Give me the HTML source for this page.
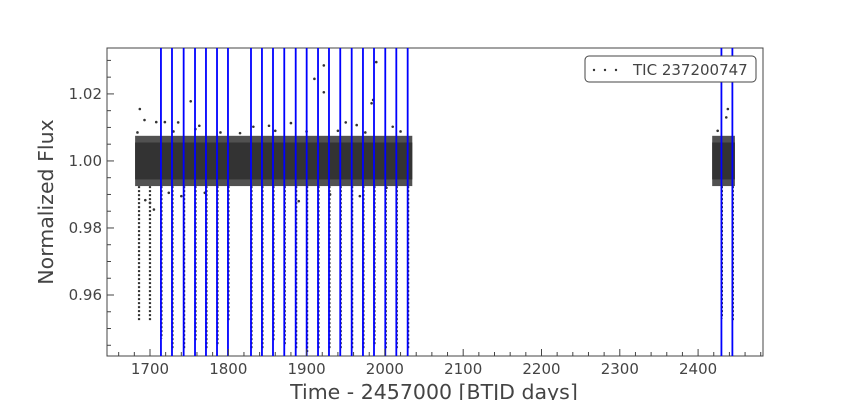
<!DOCTYPE html>
<html><head><meta charset="utf-8">
<style>
html,body{margin:0;padding:0;background:#fff;}
svg{display:block;font-family:"DejaVu Sans","Liberation Sans",sans-serif;}
</style></head>
<body>
<svg id="chart" width="848" height="400" viewBox="0 0 848 400">
  <rect x="107" y="48" width="656" height="308" fill="#fff" stroke="#444" stroke-width="1"/>
  <g id="data"></g>
  <g id="lines"></g>
  <g id="axes"></g>
  <text x="53" y="202" transform="rotate(-90 53 202)" text-anchor="middle" font-size="20.5" fill="#444">Normalized Flux</text>
  <text x="434" y="399" text-anchor="middle" font-size="20.5" fill="#444">Time - 2457000 [BTJD days]</text>
  <g>
    <rect x="585" y="56" width="171" height="26" rx="4" fill="#fff" stroke="#444" stroke-width="1"/>
    <circle cx="594" cy="70" r="1.2" fill="#333"/>
    <circle cx="605" cy="70" r="1.2" fill="#333"/>
    <circle cx="616" cy="70" r="1.2" fill="#333"/>
    <text x="633" y="75" font-size="15" fill="#444">TIC 237200747</text>
  </g>
</svg>
<script>
// ---- data ----
const xTicks = [1700,1800,1900,2000,2100,2200,2300,2400];
const yTicks = [0.96,0.98,1.00,1.02];
const yTickLabels = ["0.96","0.98","1.00","1.02"];
const segStart = [1681, 2418];
const segEnd = [2035, 2447];
const bandLow = [0.9925, 0.9925];
const bandHigh = [1.0075, 1.0075];
const coreLow = [0.9945, 0.9945];
const coreHigh = [1.0055, 1.0055];
const transitTimes = [1714.0,1728.1,1743.0,1757.5,1771.5,1785.6,1799.6,1829.0,1843.0,1857.1,1871.5,1886.1,1900.1,1914.6,1928.6,1943.0,1957.6,1972.0,1986.1,2000.5,2014.6,2029.1,2429.8,2443.8];
const transitDepth = [0.947,0.944,0.944,0.946,0.944,0.945,0.952,0.944,0.944,0.946,0.945,0.944,0.943,0.944,0.944,0.944,0.944,0.944,0.945,0.944,0.944,0.944,0.953,0.952];
const earlyDipTimes = [1686, 1700];
const earlyDipDepth = [0.952, 0.952];
const outlierT = [1687,1693,1708,1719,1736,1752,1758,1763,1832,1852,1880,1910,1922,1922,1950,1964,1983,1985,1989,2010,1694,1700,1705,1724,1740,1770,1890,1930,1968,2002,2436,2438,1684,1730,1790,1815,1860,1900,1940,1975,2020,2425];
const outlierF = [1.0155,1.0122,1.0116,1.0116,1.0115,1.0178,1.0095,1.0105,1.0102,1.0105,1.0113,1.0245,1.0285,1.0205,1.0115,1.0107,1.0172,1.0182,1.0295,1.0102,0.9883,0.9875,0.9855,0.9905,0.9895,0.9905,0.9880,0.9900,0.9895,0.9920,1.0130,1.0155,1.0085,1.0088,1.0085,1.0083,1.0090,1.0088,1.0090,1.0085,1.0088,1.0090];

// ---- scales ----
const X0=107,X1=763,Y0=48,Y1=356;
const tMin=1645.1,tMax=2482.9,fMin=0.9418,fMax=1.0337;
const sx=t=>X0+(t-tMin)/(tMax-tMin)*(X1-X0);
const sy=f=>Y1-(f-fMin)/(fMax-fMin)*(Y1-Y0);
const NS="http://www.w3.org/2000/svg";
function mk(tag,attrs,parent){const e=document.createElementNS(NS,tag);for(const k in attrs)e.setAttribute(k,attrs[k]);parent.appendChild(e);return e;}
const data=document.getElementById('data'),lines=document.getElementById('lines'),axes=document.getElementById('axes');

// bands
for(let i=0;i<segStart.length;i++){
  const r=mk('rect',{x:sx(segStart[i]),y:sy(bandHigh[i]),width:sx(segEnd[i])-sx(segStart[i]),height:sy(bandLow[i])-sy(bandHigh[i]),fill:'#333',opacity:0.85},data);
  
  
  const c=mk('rect',{x:sx(segStart[i]),y:sy(coreHigh[i]),width:sx(segEnd[i])-sx(segStart[i]),height:sy(coreLow[i])-sy(coreHigh[i]),fill:'#333'},data);
  
  
}
// dip columns
function dipColumn(t,d,name){
  const x=sx(t);
  const l=mk('line',{x1:x,x2:x,y1:sy(0.9925),y2:sy(d),stroke:'#333','stroke-width':2.2,'stroke-dasharray':'2 2'},data);
  
  
}
for(let i=0;i<earlyDipTimes.length;i++){ dipColumn(earlyDipTimes[i],earlyDipDepth[i],'early-dip'); }
for(let i=0;i<transitTimes.length;i++){ dipColumn(transitTimes[i]+0.6,transitDepth[i],'transit-dip'); }
// outliers
for(let i=0;i<outlierT.length;i++){
  const c=mk('circle',{cx:sx(outlierT[i]),cy:sy(outlierF[i]),r:1.3,fill:'#333'},data);
  
  
}
// transit lines
for(let i=0;i<transitTimes.length;i++){
  const x=sx(transitTimes[i]);
  const l=mk('line',{x1:x,x2:x,y1:Y0,y2:Y1,stroke:'#0000ff','stroke-width':1.8},lines);
  
  
}
// x ticks
for(let t=1660;t<=2480;t+=20){
  const x=sx(t),major=(t%100===0);
  const tk=mk('line',{x1:x,x2:x,y1:Y1,y2:Y1-(major?7:4),stroke:'#444','stroke-width':1},axes);
  
  
}
xTicks.forEach(t=>{
  const tx=mk('text',{x:sx(t),y:374,'text-anchor':'middle','font-size':15,fill:'#444'},axes);
  tx.textContent=t;
  
  
});
// y ticks
for(let k=0;k<=18;k++){
  const f=0.945+k*0.005; if(f>fMax) break;
  const y=sy(f),major=(Math.round(f*1000)%20===0);
  const tk=mk('line',{x1:X0,x2:X0+(major?7:4),y1:y,y2:y,stroke:'#444','stroke-width':1},axes);
  
  
}
yTicks.forEach((f,i)=>{
  const tx=mk('text',{x:102,y:sy(f)+5,'text-anchor':'end','font-size':15,fill:'#444'},axes);
  tx.textContent=yTickLabels[i];
  
  
});
</script>
</body></html>
